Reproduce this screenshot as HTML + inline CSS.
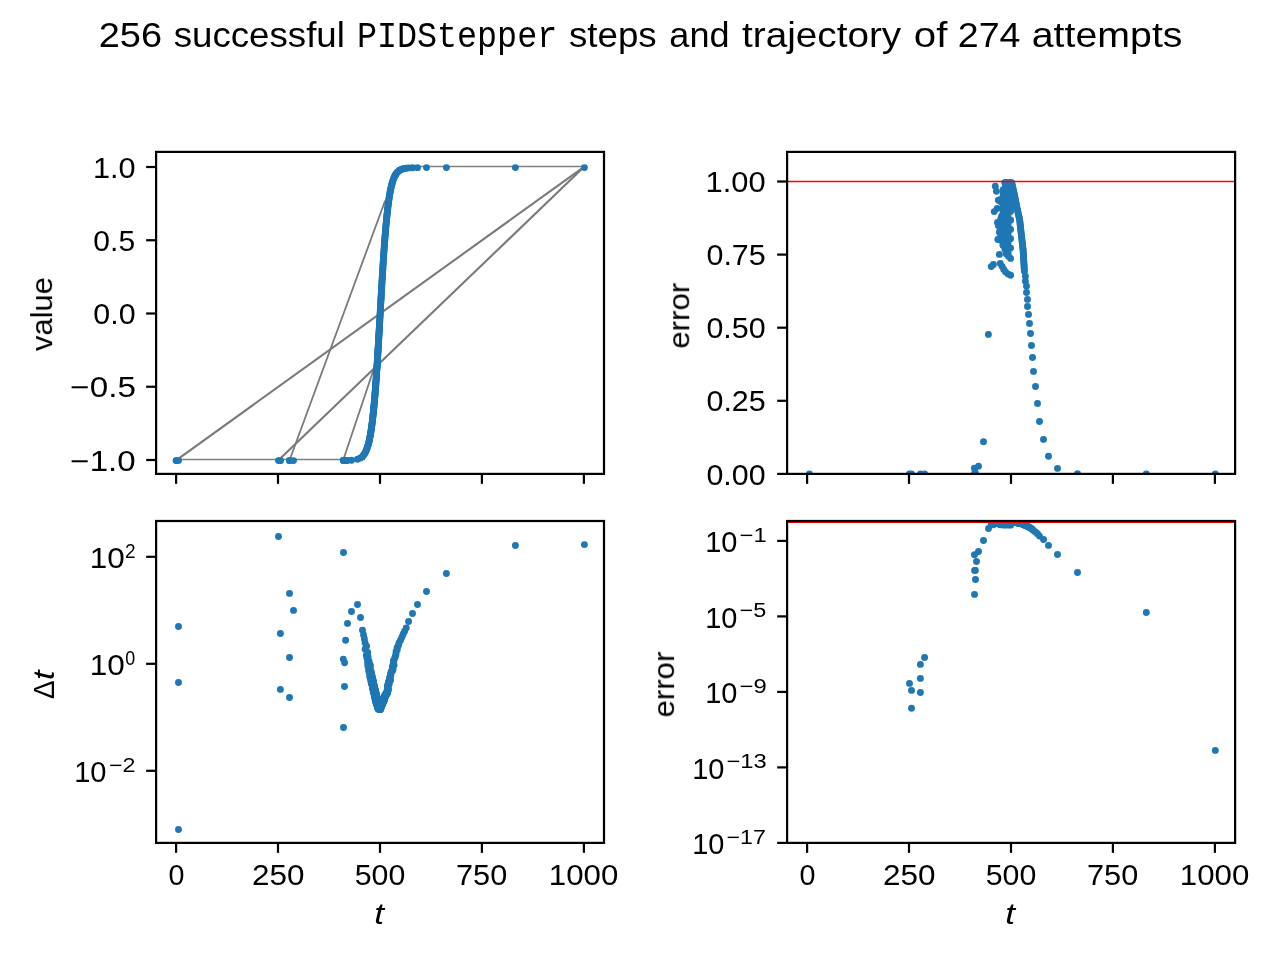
<!DOCTYPE html><html><head><meta charset="utf-8"><title>PIDStepper</title><style>html,body{margin:0;padding:0;background:#fff;}svg{display:block;}text{white-space:pre;}</style></head><body><svg width="1280" height="960" viewBox="0 0 1280 960" style="font-family:'Liberation Sans',sans-serif"><rect width="1280" height="960" fill="#fff"/><defs><clipPath id="c1"><rect x="156.1" y="151.9" width="447.9" height="322"/></clipPath><clipPath id="c2"><rect x="787.1" y="151.9" width="448" height="322"/></clipPath><clipPath id="c3"><rect x="156.1" y="521" width="447.9" height="321.9"/></clipPath><clipPath id="c4"><rect x="787.1" y="521" width="448" height="321.9"/></clipPath></defs>
<g clip-path="url(#c1)" fill="none" stroke="#808080"><g stroke-width="1.3"><polyline points="176.1,459.5 365,459.5" /><polyline points="405,166.5 584.4,166.5" /></g><g stroke-width="2.1" stroke="#7a7a7a"><line x1="177.5" y1="459.3" x2="584.4" y2="166.6"/><line x1="279.5" y1="459.3" x2="584.4" y2="166.6"/></g><g stroke-width="1.8" stroke="#7a7a7a"><line x1="289.8" y1="459.5" x2="385.2" y2="200.5"/><line x1="343.4" y1="459.5" x2="374.3" y2="367.5"/></g></g>
<g clip-path="url(#c1)" fill="#1f77b4"><circle cx="176.1" cy="460.6" r="3.45"/><circle cx="176.3" cy="460.6" r="3.45"/><circle cx="178.5" cy="460.6" r="3.45"/><circle cx="278.5" cy="460.6" r="3.45"/><circle cx="280.4" cy="460.6" r="3.45"/><circle cx="280.4" cy="460.6" r="3.45"/><circle cx="289.5" cy="460.6" r="3.45"/><circle cx="289.5" cy="460.6" r="3.45"/><circle cx="289.5" cy="460.6" r="3.45"/><circle cx="293.5" cy="460.6" r="3.45"/><circle cx="343.5" cy="460.55" r="3.45"/><circle cx="343.5" cy="460.55" r="3.45"/><circle cx="344.5" cy="460.54" r="3.45"/><circle cx="343.3" cy="460.56" r="3.45"/><circle cx="344.6" cy="460.54" r="3.45"/><circle cx="345.6" cy="460.53" r="3.45"/><circle cx="347.5" cy="460.48" r="3.45"/><circle cx="351.5" cy="460.29" r="3.45"/><circle cx="357.5" cy="459.31" r="3.45"/><circle cx="360.5" cy="457.96" r="3.45"/><circle cx="362.5" cy="456.36" r="3.45"/><circle cx="363.54" cy="455.19" r="3.45"/><circle cx="364.38" cy="454.01" r="3.45"/><circle cx="365.09" cy="452.81" r="3.45"/><circle cx="365.69" cy="451.66" r="3.45"/><circle cx="366.2" cy="450.54" r="3.45"/><circle cx="366.64" cy="449.45" r="3.45"/><circle cx="367.03" cy="448.4" r="3.45"/><circle cx="367.39" cy="447.37" r="3.45"/><circle cx="367.71" cy="446.35" r="3.45"/><circle cx="368.01" cy="445.33" r="3.45"/><circle cx="368.29" cy="444.33" r="3.45"/><circle cx="368.56" cy="443.34" r="3.45"/><circle cx="368.8" cy="442.35" r="3.45"/><circle cx="369.04" cy="441.38" r="3.45"/><circle cx="369.26" cy="440.41" r="3.45"/><circle cx="369.46" cy="439.44" r="3.45"/><circle cx="369.66" cy="438.49" r="3.45"/><circle cx="369.85" cy="437.54" r="3.45"/><circle cx="370.03" cy="436.6" r="3.45"/><circle cx="370.21" cy="435.67" r="3.45"/><circle cx="370.38" cy="434.74" r="3.45"/><circle cx="370.54" cy="433.81" r="3.45"/><circle cx="370.69" cy="432.88" r="3.45"/><circle cx="370.85" cy="431.95" r="3.45"/><circle cx="371" cy="431.02" r="3.45"/><circle cx="371.14" cy="430.09" r="3.45"/><circle cx="371.28" cy="429.15" r="3.45"/><circle cx="371.42" cy="428.22" r="3.45"/><circle cx="371.55" cy="427.3" r="3.45"/><circle cx="371.68" cy="426.37" r="3.45"/><circle cx="371.81" cy="425.44" r="3.45"/><circle cx="371.93" cy="424.51" r="3.45"/><circle cx="372.05" cy="423.59" r="3.45"/><circle cx="372.17" cy="422.67" r="3.45"/><circle cx="372.28" cy="421.74" r="3.45"/><circle cx="372.4" cy="420.82" r="3.45"/><circle cx="372.51" cy="419.91" r="3.45"/><circle cx="372.61" cy="418.99" r="3.45"/><circle cx="372.72" cy="418.08" r="3.45"/><circle cx="372.82" cy="417.16" r="3.45"/><circle cx="372.93" cy="416.26" r="3.45"/><circle cx="373.03" cy="415.35" r="3.45"/><circle cx="373.12" cy="414.44" r="3.45"/><circle cx="373.22" cy="413.54" r="3.45"/><circle cx="373.31" cy="412.64" r="3.45"/><circle cx="373.41" cy="411.74" r="3.45"/><circle cx="373.5" cy="410.85" r="3.45"/><circle cx="373.59" cy="409.96" r="3.45"/><circle cx="373.68" cy="409.07" r="3.45"/><circle cx="373.76" cy="408.18" r="3.45"/><circle cx="373.85" cy="407.3" r="3.45"/><circle cx="373.93" cy="406.42" r="3.45"/><circle cx="374.01" cy="405.54" r="3.45"/><circle cx="374.09" cy="404.67" r="3.45"/><circle cx="374.17" cy="403.8" r="3.45"/><circle cx="374.25" cy="402.93" r="3.45"/><circle cx="374.33" cy="402.06" r="3.45"/><circle cx="374.41" cy="401.2" r="3.45"/><circle cx="374.48" cy="400.34" r="3.45"/><circle cx="374.56" cy="399.49" r="3.45"/><circle cx="374.63" cy="398.63" r="3.45"/><circle cx="374.7" cy="397.79" r="3.45"/><circle cx="374.77" cy="396.94" r="3.45"/><circle cx="374.84" cy="396.1" r="3.45"/><circle cx="374.91" cy="395.26" r="3.45"/><circle cx="374.98" cy="394.42" r="3.45"/><circle cx="375.05" cy="393.59" r="3.45"/><circle cx="375.12" cy="392.75" r="3.45"/><circle cx="375.18" cy="391.92" r="3.45"/><circle cx="375.25" cy="391.09" r="3.45"/><circle cx="375.31" cy="390.26" r="3.45"/><circle cx="375.38" cy="389.44" r="3.45"/><circle cx="375.44" cy="388.61" r="3.45"/><circle cx="375.5" cy="387.79" r="3.45"/><circle cx="375.57" cy="386.97" r="3.45"/><circle cx="375.63" cy="386.15" r="3.45"/><circle cx="375.69" cy="385.34" r="3.45"/><circle cx="375.75" cy="384.53" r="3.45"/><circle cx="375.81" cy="383.72" r="3.45"/><circle cx="375.87" cy="382.91" r="3.45"/><circle cx="375.93" cy="382.1" r="3.45"/><circle cx="375.98" cy="381.3" r="3.45"/><circle cx="376.04" cy="380.5" r="3.45"/><circle cx="376.1" cy="379.7" r="3.45"/><circle cx="376.16" cy="378.91" r="3.45"/><circle cx="376.21" cy="378.11" r="3.45"/><circle cx="376.27" cy="377.32" r="3.45"/><circle cx="376.32" cy="376.54" r="3.45"/><circle cx="376.38" cy="375.75" r="3.45"/><circle cx="376.43" cy="374.97" r="3.45"/><circle cx="376.48" cy="374.19" r="3.45"/><circle cx="376.54" cy="373.41" r="3.45"/><circle cx="376.59" cy="372.64" r="3.45"/><circle cx="376.64" cy="371.87" r="3.45"/><circle cx="376.69" cy="371.1" r="3.45"/><circle cx="376.74" cy="370.33" r="3.45"/><circle cx="376.8" cy="369.57" r="3.45"/><circle cx="376.85" cy="368.81" r="3.45"/><circle cx="376.9" cy="368.05" r="3.45"/><circle cx="376.95" cy="367.29" r="3.45"/><circle cx="377" cy="366.53" r="3.45"/><circle cx="377.05" cy="365.76" r="3.45"/><circle cx="377.1" cy="364.99" r="3.45"/><circle cx="377.15" cy="364.22" r="3.45"/><circle cx="377.2" cy="363.44" r="3.45"/><circle cx="377.25" cy="362.66" r="3.45"/><circle cx="377.3" cy="361.88" r="3.45"/><circle cx="377.35" cy="361.1" r="3.45"/><circle cx="377.4" cy="360.31" r="3.45"/><circle cx="377.45" cy="359.52" r="3.45"/><circle cx="377.5" cy="358.72" r="3.45"/><circle cx="377.55" cy="357.92" r="3.45"/><circle cx="377.6" cy="357.12" r="3.45"/><circle cx="377.65" cy="356.32" r="3.45"/><circle cx="377.7" cy="355.51" r="3.45"/><circle cx="377.75" cy="354.71" r="3.45"/><circle cx="377.8" cy="353.89" r="3.45"/><circle cx="377.85" cy="353.08" r="3.45"/><circle cx="377.9" cy="352.26" r="3.45"/><circle cx="377.95" cy="351.44" r="3.45"/><circle cx="378" cy="350.62" r="3.45"/><circle cx="378.05" cy="349.8" r="3.45"/><circle cx="378.1" cy="348.97" r="3.45"/><circle cx="378.15" cy="348.14" r="3.45"/><circle cx="378.2" cy="347.31" r="3.45"/><circle cx="378.25" cy="346.48" r="3.45"/><circle cx="378.3" cy="345.64" r="3.45"/><circle cx="378.35" cy="344.8" r="3.45"/><circle cx="378.4" cy="343.97" r="3.45"/><circle cx="378.45" cy="343.12" r="3.45"/><circle cx="378.5" cy="342.28" r="3.45"/><circle cx="378.55" cy="341.43" r="3.45"/><circle cx="378.6" cy="340.59" r="3.45"/><circle cx="378.65" cy="339.74" r="3.45"/><circle cx="378.7" cy="338.88" r="3.45"/><circle cx="378.75" cy="338.03" r="3.45"/><circle cx="378.8" cy="337.18" r="3.45"/><circle cx="378.85" cy="336.32" r="3.45"/><circle cx="378.9" cy="335.46" r="3.45"/><circle cx="378.95" cy="334.6" r="3.45"/><circle cx="379" cy="333.74" r="3.45"/><circle cx="379.05" cy="332.88" r="3.45"/><circle cx="379.1" cy="332.02" r="3.45"/><circle cx="379.15" cy="331.15" r="3.45"/><circle cx="379.2" cy="330.28" r="3.45"/><circle cx="379.25" cy="329.42" r="3.45"/><circle cx="379.3" cy="328.55" r="3.45"/><circle cx="379.35" cy="327.68" r="3.45"/><circle cx="379.4" cy="326.81" r="3.45"/><circle cx="379.45" cy="325.94" r="3.45"/><circle cx="379.5" cy="325.07" r="3.45"/><circle cx="379.55" cy="324.19" r="3.45"/><circle cx="379.6" cy="323.19" r="3.45"/><circle cx="379.66" cy="322.18" r="3.45"/><circle cx="379.72" cy="321.16" r="3.45"/><circle cx="379.78" cy="320.13" r="3.45"/><circle cx="379.84" cy="319.1" r="3.45"/><circle cx="379.9" cy="318.07" r="3.45"/><circle cx="379.96" cy="317.02" r="3.45"/><circle cx="380.02" cy="315.97" r="3.45"/><circle cx="380.08" cy="314.91" r="3.45"/><circle cx="380.14" cy="313.85" r="3.45"/><circle cx="380.2" cy="312.78" r="3.45"/><circle cx="380.26" cy="311.7" r="3.45"/><circle cx="380.32" cy="310.62" r="3.45"/><circle cx="380.38" cy="309.53" r="3.45"/><circle cx="380.45" cy="308.43" r="3.45"/><circle cx="380.51" cy="307.33" r="3.45"/><circle cx="380.57" cy="306.22" r="3.45"/><circle cx="380.64" cy="305.11" r="3.45"/><circle cx="380.7" cy="303.99" r="3.45"/><circle cx="380.76" cy="302.86" r="3.45"/><circle cx="380.83" cy="301.73" r="3.45"/><circle cx="380.89" cy="300.59" r="3.45"/><circle cx="380.96" cy="299.45" r="3.45"/><circle cx="381.03" cy="298.3" r="3.45"/><circle cx="381.09" cy="297.14" r="3.45"/><circle cx="381.16" cy="295.98" r="3.45"/><circle cx="381.23" cy="294.81" r="3.45"/><circle cx="381.3" cy="293.64" r="3.45"/><circle cx="381.36" cy="292.46" r="3.45"/><circle cx="381.43" cy="291.28" r="3.45"/><circle cx="381.5" cy="290.09" r="3.45"/><circle cx="381.57" cy="288.9" r="3.45"/><circle cx="381.64" cy="287.7" r="3.45"/><circle cx="381.71" cy="286.5" r="3.45"/><circle cx="381.79" cy="285.29" r="3.45"/><circle cx="381.86" cy="284.08" r="3.45"/><circle cx="381.93" cy="282.87" r="3.45"/><circle cx="382" cy="281.65" r="3.45"/><circle cx="382.08" cy="280.42" r="3.45"/><circle cx="382.15" cy="279.2" r="3.45"/><circle cx="382.22" cy="277.97" r="3.45"/><circle cx="382.3" cy="276.73" r="3.45"/><circle cx="382.38" cy="275.5" r="3.45"/><circle cx="382.45" cy="274.26" r="3.45"/><circle cx="382.53" cy="273.01" r="3.45"/><circle cx="382.61" cy="271.77" r="3.45"/><circle cx="382.68" cy="270.52" r="3.45"/><circle cx="382.76" cy="269.27" r="3.45"/><circle cx="382.84" cy="268.02" r="3.45"/><circle cx="382.92" cy="266.76" r="3.45"/><circle cx="383" cy="265.51" r="3.45"/><circle cx="383.08" cy="264.25" r="3.45"/><circle cx="383.16" cy="262.99" r="3.45"/><circle cx="383.24" cy="261.73" r="3.45"/><circle cx="383.33" cy="260.47" r="3.45"/><circle cx="383.41" cy="259.21" r="3.45"/><circle cx="383.49" cy="257.94" r="3.45"/><circle cx="383.58" cy="256.68" r="3.45"/><circle cx="383.66" cy="255.41" r="3.45"/><circle cx="383.75" cy="254.15" r="3.45"/><circle cx="383.84" cy="252.89" r="3.45"/><circle cx="383.93" cy="251.62" r="3.45"/><circle cx="384.01" cy="250.36" r="3.45"/><circle cx="384.1" cy="249.1" r="3.45"/><circle cx="384.19" cy="247.84" r="3.45"/><circle cx="384.28" cy="246.58" r="3.45"/><circle cx="384.37" cy="245.33" r="3.45"/><circle cx="384.47" cy="244.07" r="3.45"/><circle cx="384.56" cy="242.82" r="3.45"/><circle cx="384.65" cy="241.57" r="3.45"/><circle cx="384.75" cy="240.32" r="3.45"/><circle cx="384.84" cy="239.07" r="3.45"/><circle cx="384.94" cy="237.83" r="3.45"/><circle cx="385.04" cy="236.6" r="3.45"/><circle cx="385.14" cy="235.36" r="3.45"/><circle cx="385.24" cy="234.13" r="3.45"/><circle cx="385.34" cy="232.91" r="3.45"/><circle cx="385.44" cy="231.68" r="3.45"/><circle cx="385.54" cy="230.47" r="3.45"/><circle cx="385.64" cy="229.26" r="3.45"/><circle cx="385.75" cy="228.05" r="3.45"/><circle cx="385.85" cy="226.85" r="3.45"/><circle cx="385.96" cy="225.66" r="3.45"/><circle cx="386.06" cy="224.47" r="3.45"/><circle cx="386.17" cy="223.29" r="3.45"/><circle cx="386.28" cy="222.11" r="3.45"/><circle cx="386.39" cy="220.95" r="3.45"/><circle cx="386.51" cy="219.79" r="3.45"/><circle cx="386.62" cy="218.63" r="3.45"/><circle cx="386.73" cy="217.49" r="3.45"/><circle cx="386.85" cy="216.35" r="3.45"/><circle cx="386.97" cy="215.22" r="3.45"/><circle cx="387.09" cy="214.08" r="3.45"/><circle cx="387.21" cy="212.94" r="3.45"/><circle cx="387.33" cy="211.8" r="3.45"/><circle cx="387.46" cy="210.65" r="3.45"/><circle cx="387.6" cy="209.5" r="3.45"/><circle cx="387.73" cy="208.35" r="3.45"/><circle cx="387.87" cy="207.2" r="3.45"/><circle cx="388.01" cy="206.04" r="3.45"/><circle cx="388.16" cy="204.88" r="3.45"/><circle cx="388.31" cy="203.72" r="3.45"/><circle cx="388.47" cy="202.56" r="3.45"/><circle cx="388.63" cy="201.4" r="3.45"/><circle cx="388.79" cy="200.24" r="3.45"/><circle cx="388.96" cy="199.07" r="3.45"/><circle cx="389.14" cy="197.91" r="3.45"/><circle cx="389.32" cy="196.75" r="3.45"/><circle cx="389.51" cy="195.59" r="3.45"/><circle cx="389.7" cy="194.43" r="3.45"/><circle cx="389.9" cy="193.27" r="3.45"/><circle cx="390.11" cy="192.12" r="3.45"/><circle cx="390.33" cy="190.96" r="3.45"/><circle cx="390.56" cy="189.82" r="3.45"/><circle cx="390.8" cy="188.67" r="3.45"/><circle cx="391.05" cy="187.53" r="3.45"/><circle cx="391.31" cy="186.4" r="3.45"/><circle cx="391.58" cy="185.28" r="3.45"/><circle cx="391.87" cy="184.16" r="3.45"/><circle cx="392.18" cy="183.06" r="3.45"/><circle cx="392.5" cy="181.97" r="3.45"/><circle cx="392.83" cy="180.91" r="3.45"/><circle cx="393.19" cy="179.86" r="3.45"/><circle cx="393.57" cy="178.83" r="3.45"/><circle cx="393.98" cy="177.82" r="3.45"/><circle cx="394.42" cy="176.83" r="3.45"/><circle cx="394.89" cy="175.88" r="3.45"/><circle cx="395.4" cy="174.95" r="3.45"/><circle cx="395.96" cy="174.05" r="3.45"/><circle cx="396.58" cy="173.18" r="3.45"/><circle cx="397.26" cy="172.35" r="3.45"/><circle cx="398.01" cy="171.58" r="3.45"/><circle cx="398.82" cy="170.88" r="3.45"/><circle cx="399.72" cy="170.25" r="3.45"/><circle cx="400.72" cy="169.69" r="3.45"/><circle cx="401.84" cy="169.2" r="3.45"/><circle cx="403.13" cy="168.78" r="3.45"/><circle cx="404.59" cy="168.43" r="3.45"/><circle cx="406.24" cy="168.16" r="3.45"/><circle cx="408.6" cy="167.92" r="3.45"/><circle cx="412.5" cy="167.73" r="3.45"/><circle cx="417.5" cy="167.64" r="3.45"/><circle cx="426.5" cy="167.6" r="3.45"/><circle cx="446.4" cy="167.6" r="3.45"/><circle cx="515.4" cy="167.6" r="3.45"/><circle cx="584.4" cy="167.6" r="3.45"/></g>
<g clip-path="url(#c2)" fill="#1f77b4"><circle cx="1011.64" cy="182.6" r="3.45"/><circle cx="1012.01" cy="184.2" r="3.45"/><circle cx="1012.38" cy="185.8" r="3.45"/><circle cx="1012.75" cy="187.4" r="3.45"/><circle cx="1013.12" cy="189" r="3.45"/><circle cx="1013.48" cy="190.6" r="3.45"/><circle cx="1013.85" cy="192.2" r="3.45"/><circle cx="1014.22" cy="193.8" r="3.45"/><circle cx="1014.58" cy="195.4" r="3.45"/><circle cx="1014.88" cy="197" r="3.45"/><circle cx="1015.19" cy="198.6" r="3.45"/><circle cx="1015.5" cy="200.2" r="3.45"/><circle cx="1015.81" cy="201.8" r="3.45"/><circle cx="1016.11" cy="203.4" r="3.45"/><circle cx="1016.42" cy="205" r="3.45"/><circle cx="1016.73" cy="206.6" r="3.45"/><circle cx="1017.06" cy="208.2" r="3.45"/><circle cx="1017.42" cy="209.8" r="3.45"/><circle cx="1017.77" cy="211.4" r="3.45"/><circle cx="1018.13" cy="213" r="3.45"/><circle cx="1018.49" cy="214.6" r="3.45"/><circle cx="1018.85" cy="216.2" r="3.45"/><circle cx="1019.21" cy="217.8" r="3.45"/><circle cx="1019.57" cy="219.4" r="3.45"/><circle cx="1019.81" cy="221" r="3.45"/><circle cx="1019.99" cy="222.6" r="3.45"/><circle cx="1020.16" cy="224.2" r="3.45"/><circle cx="1020.34" cy="225.8" r="3.45"/><circle cx="1020.51" cy="227.4" r="3.45"/><circle cx="1020.69" cy="229" r="3.45"/><circle cx="1020.87" cy="230.6" r="3.45"/><circle cx="1021.05" cy="232.2" r="3.45"/><circle cx="1021.24" cy="233.8" r="3.45"/><circle cx="1021.42" cy="235.4" r="3.45"/><circle cx="1021.6" cy="237" r="3.45"/><circle cx="1021.79" cy="238.6" r="3.45"/><circle cx="1021.97" cy="240.2" r="3.45"/><circle cx="1022.16" cy="241.8" r="3.45"/><circle cx="1022.34" cy="243.4" r="3.45"/><circle cx="1022.52" cy="245" r="3.45"/><circle cx="1022.71" cy="246.6" r="3.45"/><circle cx="1022.89" cy="248.2" r="3.45"/><circle cx="1023.08" cy="249.8" r="3.45"/><circle cx="1023.19" cy="251.4" r="3.45"/><circle cx="1023.28" cy="253" r="3.45"/><circle cx="1023.38" cy="254.6" r="3.45"/><circle cx="1023.48" cy="256.2" r="3.45"/><circle cx="1023.58" cy="257.8" r="3.45"/><circle cx="1023.68" cy="259.4" r="3.45"/><circle cx="1023.77" cy="261" r="3.45"/><circle cx="1023.87" cy="262.6" r="3.45"/><circle cx="1023.97" cy="264.2" r="3.45"/><circle cx="1024.07" cy="265.8" r="3.45"/><circle cx="1024.16" cy="267.4" r="3.45"/><circle cx="1024.26" cy="269" r="3.45"/><circle cx="1024.4" cy="271.25" r="3.45"/><circle cx="1025.4" cy="276.25" r="3.45"/><circle cx="1025.4" cy="281.25" r="3.45"/><circle cx="1026.5" cy="286.25" r="3.45"/><circle cx="1026.5" cy="292.5" r="3.45"/><circle cx="1027.5" cy="299.4" r="3.45"/><circle cx="1027.5" cy="306.5" r="3.45"/><circle cx="1028.5" cy="314.4" r="3.45"/><circle cx="1029.5" cy="323.5" r="3.45"/><circle cx="1030.5" cy="333.5" r="3.45"/><circle cx="1031.5" cy="345.5" r="3.45"/><circle cx="1032.5" cy="357.5" r="3.45"/><circle cx="1033.5" cy="371.4" r="3.45"/><circle cx="1035.5" cy="386.5" r="3.45"/><circle cx="1037.5" cy="403.5" r="3.45"/><circle cx="1039.5" cy="421.5" r="3.45"/><circle cx="1043.5" cy="439.4" r="3.45"/><circle cx="1048.5" cy="456.25" r="3.45"/><circle cx="1057.5" cy="468.4" r="3.45"/><circle cx="1077.5" cy="473.75" r="3.45"/><circle cx="1146.3" cy="473.9" r="3.45"/><circle cx="1215.3" cy="473.9" r="3.45"/><circle cx="991.25" cy="266.6" r="3.45"/><circle cx="993.4" cy="264.4" r="3.45"/><circle cx="995.3" cy="186.25" r="3.45"/><circle cx="996.4" cy="191.25" r="3.45"/><circle cx="998.4" cy="200.3" r="3.45"/><circle cx="994.25" cy="211.6" r="3.45"/><circle cx="997.2" cy="208.4" r="3.45"/><circle cx="997.5" cy="222.5" r="3.45"/><circle cx="1001.6" cy="216.25" r="3.45"/><circle cx="999.4" cy="232.2" r="3.45"/><circle cx="997.9" cy="239.5" r="3.45"/><circle cx="999.4" cy="254.4" r="3.45"/><circle cx="1000.3" cy="263.4" r="3.45"/><circle cx="1002.2" cy="266.6" r="3.45"/><circle cx="1003.75" cy="269.4" r="3.45"/><circle cx="1005.6" cy="271.9" r="3.45"/><circle cx="1008.1" cy="274.1" r="3.45"/><circle cx="1010.6" cy="275.3" r="3.45"/><circle cx="1006.25" cy="253.75" r="3.45"/><circle cx="1008.4" cy="256.25" r="3.45"/><circle cx="1010.6" cy="258.4" r="3.45"/><circle cx="1003" cy="245.2" r="3.45"/><circle cx="1005" cy="249.2" r="3.45"/><circle cx="1010.6" cy="229.4" r="3.45"/><circle cx="1010.6" cy="238.75" r="3.45"/><circle cx="1010.6" cy="248.1" r="3.45"/><circle cx="1010.5" cy="211.5" r="3.45"/><circle cx="1010.6" cy="220.2" r="3.45"/><circle cx="1004.7" cy="182.6" r="3.45"/><circle cx="1010" cy="182.6" r="3.45"/><circle cx="1007.3" cy="182.6" r="3.45"/><circle cx="1005.6" cy="182.6" r="3.45"/><circle cx="1008" cy="182.6" r="3.45"/><circle cx="1010.4" cy="182.6" r="3.45"/><circle cx="1005.6" cy="185" r="3.45"/><circle cx="1008" cy="185" r="3.45"/><circle cx="1010.4" cy="185" r="3.45"/><circle cx="1005.6" cy="187.4" r="3.45"/><circle cx="1008" cy="187.4" r="3.45"/><circle cx="1010.4" cy="187.4" r="3.45"/><circle cx="1003.2" cy="189.8" r="3.45"/><circle cx="1005.6" cy="189.8" r="3.45"/><circle cx="1008" cy="189.8" r="3.45"/><circle cx="1010.4" cy="189.8" r="3.45"/><circle cx="1003.2" cy="192.2" r="3.45"/><circle cx="1005.6" cy="192.2" r="3.45"/><circle cx="1008" cy="192.2" r="3.45"/><circle cx="1010.4" cy="192.2" r="3.45"/><circle cx="1003.2" cy="194.6" r="3.45"/><circle cx="1005.6" cy="194.6" r="3.45"/><circle cx="1008" cy="194.6" r="3.45"/><circle cx="1010.4" cy="194.6" r="3.45"/><circle cx="1003.2" cy="197" r="3.45"/><circle cx="1005.6" cy="197" r="3.45"/><circle cx="1008" cy="197" r="3.45"/><circle cx="1010.4" cy="197" r="3.45"/><circle cx="1000.8" cy="199.4" r="3.45"/><circle cx="1003.2" cy="199.4" r="3.45"/><circle cx="1005.6" cy="199.4" r="3.45"/><circle cx="1008" cy="199.4" r="3.45"/><circle cx="1010.4" cy="199.4" r="3.45"/><circle cx="1000.8" cy="201.8" r="3.45"/><circle cx="1003.2" cy="201.8" r="3.45"/><circle cx="1005.6" cy="201.8" r="3.45"/><circle cx="1008" cy="201.8" r="3.45"/><circle cx="1010.4" cy="201.8" r="3.45"/><circle cx="1012.8" cy="201.8" r="3.45"/><circle cx="1003.2" cy="204.2" r="3.45"/><circle cx="1005.6" cy="204.2" r="3.45"/><circle cx="1008" cy="204.2" r="3.45"/><circle cx="1010.4" cy="204.2" r="3.45"/><circle cx="1012.8" cy="204.2" r="3.45"/><circle cx="1003.2" cy="206.6" r="3.45"/><circle cx="1005.6" cy="206.6" r="3.45"/><circle cx="1008" cy="206.6" r="3.45"/><circle cx="1010.4" cy="206.6" r="3.45"/><circle cx="1003.2" cy="209" r="3.45"/><circle cx="1005.6" cy="209" r="3.45"/><circle cx="1008" cy="209" r="3.45"/><circle cx="1010.4" cy="209" r="3.45"/><circle cx="1003.2" cy="211.4" r="3.45"/><circle cx="1005.6" cy="211.4" r="3.45"/><circle cx="1008" cy="211.4" r="3.45"/><circle cx="1003.2" cy="213.8" r="3.45"/><circle cx="1005.6" cy="213.8" r="3.45"/><circle cx="1008" cy="213.8" r="3.45"/><circle cx="1003.2" cy="216.2" r="3.45"/><circle cx="1005.6" cy="216.2" r="3.45"/><circle cx="1008" cy="216.2" r="3.45"/><circle cx="1000.8" cy="218.6" r="3.45"/><circle cx="1003.2" cy="218.6" r="3.45"/><circle cx="1005.6" cy="218.6" r="3.45"/><circle cx="1008" cy="218.6" r="3.45"/><circle cx="1000.8" cy="221" r="3.45"/><circle cx="1003.2" cy="221" r="3.45"/><circle cx="1005.6" cy="221" r="3.45"/><circle cx="1008" cy="221" r="3.45"/><circle cx="998.4" cy="223.4" r="3.45"/><circle cx="1000.8" cy="223.4" r="3.45"/><circle cx="1003.2" cy="223.4" r="3.45"/><circle cx="1005.6" cy="223.4" r="3.45"/><circle cx="1008" cy="223.4" r="3.45"/><circle cx="998.4" cy="225.8" r="3.45"/><circle cx="1000.8" cy="225.8" r="3.45"/><circle cx="1003.2" cy="225.8" r="3.45"/><circle cx="1005.6" cy="225.8" r="3.45"/><circle cx="1008" cy="225.8" r="3.45"/><circle cx="1000.8" cy="228.2" r="3.45"/><circle cx="1003.2" cy="228.2" r="3.45"/><circle cx="1005.6" cy="228.2" r="3.45"/><circle cx="1008" cy="228.2" r="3.45"/><circle cx="1000.8" cy="230.6" r="3.45"/><circle cx="1003.2" cy="230.6" r="3.45"/><circle cx="1005.6" cy="230.6" r="3.45"/><circle cx="1008" cy="230.6" r="3.45"/><circle cx="1000.8" cy="233" r="3.45"/><circle cx="1003.2" cy="233" r="3.45"/><circle cx="1005.6" cy="233" r="3.45"/><circle cx="1008" cy="233" r="3.45"/><circle cx="1000.8" cy="235.4" r="3.45"/><circle cx="1003.2" cy="235.4" r="3.45"/><circle cx="1005.6" cy="235.4" r="3.45"/><circle cx="1008" cy="235.4" r="3.45"/><circle cx="1000.8" cy="237.8" r="3.45"/><circle cx="1003.2" cy="237.8" r="3.45"/><circle cx="1005.6" cy="237.8" r="3.45"/><circle cx="1008" cy="237.8" r="3.45"/><circle cx="1000.8" cy="240.2" r="3.45"/><circle cx="1003.2" cy="240.2" r="3.45"/><circle cx="1005.6" cy="240.2" r="3.45"/><circle cx="1008" cy="240.2" r="3.45"/><circle cx="1003.2" cy="242.6" r="3.45"/><circle cx="1005.6" cy="242.6" r="3.45"/><circle cx="1008" cy="242.6" r="3.45"/><circle cx="1003.2" cy="245" r="3.45"/><circle cx="1005.6" cy="245" r="3.45"/><circle cx="1008" cy="245" r="3.45"/><circle cx="1005.6" cy="247.4" r="3.45"/><circle cx="1008" cy="247.4" r="3.45"/><circle cx="1005.6" cy="249.8" r="3.45"/><circle cx="1008" cy="249.8" r="3.45"/><circle cx="1008" cy="252.2" r="3.45"/><circle cx="1008" cy="254.6" r="3.45"/><circle cx="809.4" cy="473.9" r="3.45"/><circle cx="909.5" cy="473.9" r="3.45"/><circle cx="911.5" cy="473.9" r="3.45"/><circle cx="920.4" cy="473.9" r="3.45"/><circle cx="924.6" cy="473.9" r="3.45"/><circle cx="974.4" cy="468.3" r="3.45"/><circle cx="975.4" cy="472.9" r="3.45"/><circle cx="974.6" cy="473.5" r="3.45"/><circle cx="978.5" cy="466.25" r="3.45"/><circle cx="983.5" cy="441.7" r="3.45"/><circle cx="988.4" cy="334.4" r="3.45"/></g>
<g clip-path="url(#c3)" fill="#1f77b4"><circle cx="178.5" cy="829.5" r="3.45"/><circle cx="178.5" cy="682.5" r="3.45"/><circle cx="178.5" cy="626.5" r="3.45"/><circle cx="278.5" cy="536.5" r="3.45"/><circle cx="280.4" cy="633.5" r="3.45"/><circle cx="280.4" cy="689.4" r="3.45"/><circle cx="289.5" cy="593.4" r="3.45"/><circle cx="289.5" cy="657.5" r="3.45"/><circle cx="289.5" cy="697.5" r="3.45"/><circle cx="293.5" cy="610.4" r="3.45"/><circle cx="343.5" cy="552.5" r="3.45"/><circle cx="343.5" cy="727.5" r="3.45"/><circle cx="344.5" cy="686.5" r="3.45"/><circle cx="343.3" cy="659.1" r="3.45"/><circle cx="344.6" cy="662.7" r="3.45"/><circle cx="345.6" cy="640.3" r="3.45"/><circle cx="347.5" cy="623.4" r="3.45"/><circle cx="351.5" cy="611.5" r="3.45"/><circle cx="357.5" cy="604.5" r="3.45"/><circle cx="360.5" cy="617.5" r="3.45"/><circle cx="362.5" cy="630.2" r="3.45"/><circle cx="363.54" cy="635.04" r="3.45"/><circle cx="364.38" cy="638.97" r="3.45"/><circle cx="365.09" cy="643.07" r="3.45"/><circle cx="366.61" cy="646.24" r="3.45"/><circle cx="365.12" cy="649.29" r="3.45"/><circle cx="367.71" cy="652.53" r="3.45"/><circle cx="366.34" cy="655.19" r="3.45"/><circle cx="368.11" cy="657.02" r="3.45"/><circle cx="367.02" cy="658.27" r="3.45"/><circle cx="369.01" cy="661.11" r="3.45"/><circle cx="367.56" cy="661.69" r="3.45"/><circle cx="369.7" cy="664.3" r="3.45"/><circle cx="367.78" cy="664.78" r="3.45"/><circle cx="370.42" cy="665.5" r="3.45"/><circle cx="368.05" cy="667.1" r="3.45"/><circle cx="370.27" cy="667.98" r="3.45"/><circle cx="368.81" cy="670.2" r="3.45"/><circle cx="370.68" cy="670.87" r="3.45"/><circle cx="368.97" cy="671.53" r="3.45"/><circle cx="371.29" cy="671.88" r="3.45"/><circle cx="369.69" cy="672.85" r="3.45"/><circle cx="371.71" cy="673.92" r="3.45"/><circle cx="369.84" cy="674.87" r="3.45"/><circle cx="371.86" cy="675.09" r="3.45"/><circle cx="369.83" cy="676.38" r="3.45"/><circle cx="372.01" cy="676.82" r="3.45"/><circle cx="370.29" cy="677.92" r="3.45"/><circle cx="372.63" cy="677.59" r="3.45"/><circle cx="370.26" cy="677.9" r="3.45"/><circle cx="372.67" cy="679.5" r="3.45"/><circle cx="371.06" cy="679.63" r="3.45"/><circle cx="372.66" cy="680.46" r="3.45"/><circle cx="370.9" cy="680.85" r="3.45"/><circle cx="373.48" cy="680.95" r="3.45"/><circle cx="371.18" cy="681.91" r="3.45"/><circle cx="373.5" cy="682.19" r="3.45"/><circle cx="371.31" cy="683.46" r="3.45"/><circle cx="373.65" cy="683.49" r="3.45"/><circle cx="372.03" cy="684.02" r="3.45"/><circle cx="373.98" cy="684.94" r="3.45"/><circle cx="371.74" cy="684.26" r="3.45"/><circle cx="374" cy="685.32" r="3.45"/><circle cx="372.46" cy="685.42" r="3.45"/><circle cx="374.04" cy="685.29" r="3.45"/><circle cx="372.63" cy="686.75" r="3.45"/><circle cx="374.2" cy="686.33" r="3.45"/><circle cx="372.59" cy="687.73" r="3.45"/><circle cx="374.34" cy="687.45" r="3.45"/><circle cx="372.67" cy="688.54" r="3.45"/><circle cx="375.04" cy="688.89" r="3.45"/><circle cx="373.02" cy="688.55" r="3.45"/><circle cx="374.88" cy="689.67" r="3.45"/><circle cx="372.74" cy="688.86" r="3.45"/><circle cx="374.92" cy="689.35" r="3.45"/><circle cx="373.37" cy="690.11" r="3.45"/><circle cx="375.36" cy="690.1" r="3.45"/><circle cx="373.68" cy="690.69" r="3.45"/><circle cx="375.36" cy="691.26" r="3.45"/><circle cx="373.21" cy="691.8" r="3.45"/><circle cx="375.62" cy="692.01" r="3.45"/><circle cx="373.54" cy="691.43" r="3.45"/><circle cx="376.03" cy="692.91" r="3.45"/><circle cx="373.55" cy="693.25" r="3.45"/><circle cx="375.82" cy="692.9" r="3.45"/><circle cx="374.19" cy="693.54" r="3.45"/><circle cx="375.72" cy="692.89" r="3.45"/><circle cx="374.26" cy="693.3" r="3.45"/><circle cx="376.05" cy="693.38" r="3.45"/><circle cx="374.53" cy="693.79" r="3.45"/><circle cx="376.02" cy="694.38" r="3.45"/><circle cx="374.65" cy="695.44" r="3.45"/><circle cx="376.51" cy="694.52" r="3.45"/><circle cx="374.63" cy="695.08" r="3.45"/><circle cx="376.46" cy="694.96" r="3.45"/><circle cx="374.36" cy="696.59" r="3.45"/><circle cx="376.65" cy="696" r="3.45"/><circle cx="374.98" cy="695.63" r="3.45"/><circle cx="376.69" cy="696.11" r="3.45"/><circle cx="374.62" cy="696.18" r="3.45"/><circle cx="376.58" cy="697.66" r="3.45"/><circle cx="374.93" cy="696.6" r="3.45"/><circle cx="377.06" cy="696.63" r="3.45"/><circle cx="375.05" cy="698.37" r="3.45"/><circle cx="377.4" cy="698.13" r="3.45"/><circle cx="375.34" cy="697.82" r="3.45"/><circle cx="377.03" cy="698.68" r="3.45"/><circle cx="375.27" cy="698.9" r="3.45"/><circle cx="377.25" cy="698.22" r="3.45"/><circle cx="375.2" cy="699.64" r="3.45"/><circle cx="377.73" cy="699.56" r="3.45"/><circle cx="375.3" cy="699.66" r="3.45"/><circle cx="377.4" cy="699.5" r="3.45"/><circle cx="375.71" cy="698.92" r="3.45"/><circle cx="377.36" cy="699.52" r="3.45"/><circle cx="375.88" cy="700.38" r="3.45"/><circle cx="378.11" cy="700.18" r="3.45"/><circle cx="375.54" cy="701.24" r="3.45"/><circle cx="378.21" cy="700.43" r="3.45"/><circle cx="376.1" cy="700.4" r="3.45"/><circle cx="377.78" cy="700.55" r="3.45"/><circle cx="375.94" cy="701.85" r="3.45"/><circle cx="378.33" cy="701.37" r="3.45"/><circle cx="376.02" cy="702.07" r="3.45"/><circle cx="377.91" cy="702.04" r="3.45"/><circle cx="375.95" cy="702.42" r="3.45"/><circle cx="378.47" cy="702.13" r="3.45"/><circle cx="376.53" cy="702.81" r="3.45"/><circle cx="378.28" cy="703.02" r="3.45"/><circle cx="376.11" cy="702.56" r="3.45"/><circle cx="378.43" cy="703.63" r="3.45"/><circle cx="376.38" cy="702.58" r="3.45"/><circle cx="378.34" cy="702.74" r="3.45"/><circle cx="376.36" cy="703.98" r="3.45"/><circle cx="378.45" cy="704.17" r="3.45"/><circle cx="376.41" cy="704.05" r="3.45"/><circle cx="378.69" cy="704.03" r="3.45"/><circle cx="377.06" cy="703.33" r="3.45"/><circle cx="379.23" cy="704.5" r="3.45"/><circle cx="376.9" cy="705.11" r="3.45"/><circle cx="378.95" cy="705.17" r="3.45"/><circle cx="376.81" cy="704.27" r="3.45"/><circle cx="378.92" cy="704.55" r="3.45"/><circle cx="377.29" cy="705.18" r="3.45"/><circle cx="379.03" cy="705.07" r="3.45"/><circle cx="377.46" cy="706.01" r="3.45"/><circle cx="379.19" cy="705.44" r="3.45"/><circle cx="377.27" cy="706.31" r="3.45"/><circle cx="379.34" cy="706.49" r="3.45"/><circle cx="377.42" cy="706.02" r="3.45"/><circle cx="379.51" cy="705.36" r="3.45"/><circle cx="377.56" cy="705.78" r="3.45"/><circle cx="379.25" cy="706.92" r="3.45"/><circle cx="377.83" cy="706.55" r="3.45"/><circle cx="379.85" cy="706.84" r="3.45"/><circle cx="377.83" cy="706.93" r="3.45"/><circle cx="379.84" cy="707.51" r="3.45"/><circle cx="378.08" cy="707.31" r="3.45"/><circle cx="379.72" cy="707.01" r="3.45"/><circle cx="377.74" cy="707.54" r="3.45"/><circle cx="380.04" cy="708.1" r="3.45"/><circle cx="377.75" cy="707.74" r="3.45"/><circle cx="380.17" cy="708" r="3.45"/><circle cx="378.11" cy="708.45" r="3.45"/><circle cx="380.16" cy="708.35" r="3.45"/><circle cx="378.24" cy="709.16" r="3.45"/><circle cx="380.44" cy="709.21" r="3.45"/><circle cx="378.03" cy="708.38" r="3.45"/><circle cx="380.44" cy="709.63" r="3.45"/><circle cx="378.2" cy="708.5" r="3.45"/><circle cx="380.23" cy="709.14" r="3.45"/><circle cx="378.8" cy="708.97" r="3.45"/><circle cx="378.78" cy="709.29" r="3.45"/><circle cx="379.91" cy="709.16" r="3.45"/><circle cx="380.17" cy="709.02" r="3.45"/><circle cx="380.43" cy="708.89" r="3.45"/><circle cx="379.16" cy="708.75" r="3.45"/><circle cx="380.23" cy="708.61" r="3.45"/><circle cx="380.18" cy="708.48" r="3.45"/><circle cx="379.31" cy="708.34" r="3.45"/><circle cx="380.7" cy="708.2" r="3.45"/><circle cx="380.92" cy="708.06" r="3.45"/><circle cx="379.63" cy="707.91" r="3.45"/><circle cx="381.01" cy="707.77" r="3.45"/><circle cx="380.08" cy="707.63" r="3.45"/><circle cx="380.3" cy="707.49" r="3.45"/><circle cx="381.26" cy="707.34" r="3.45"/><circle cx="381.04" cy="707.19" r="3.45"/><circle cx="379.9" cy="707.05" r="3.45"/><circle cx="380.45" cy="706.9" r="3.45"/><circle cx="380.66" cy="706.75" r="3.45"/><circle cx="380.41" cy="706.6" r="3.45"/><circle cx="380.22" cy="706.45" r="3.45"/><circle cx="380.5" cy="706.3" r="3.45"/><circle cx="381.29" cy="706.15" r="3.45"/><circle cx="380.1" cy="705.99" r="3.45"/><circle cx="381.12" cy="705.84" r="3.45"/><circle cx="380.99" cy="705.68" r="3.45"/><circle cx="380.29" cy="705.53" r="3.45"/><circle cx="380.92" cy="705.37" r="3.45"/><circle cx="381.52" cy="705.21" r="3.45"/><circle cx="381.39" cy="705.05" r="3.45"/><circle cx="380.65" cy="704.89" r="3.45"/><circle cx="382.38" cy="704.73" r="3.45"/><circle cx="382.09" cy="704.56" r="3.45"/><circle cx="382.49" cy="704.4" r="3.45"/><circle cx="381" cy="704.25" r="3.45"/><circle cx="381.36" cy="704.09" r="3.45"/><circle cx="381.03" cy="703.93" r="3.45"/><circle cx="382.43" cy="703.76" r="3.45"/><circle cx="381.59" cy="703.6" r="3.45"/><circle cx="381.41" cy="703.44" r="3.45"/><circle cx="382.01" cy="703.27" r="3.45"/><circle cx="382.97" cy="703.11" r="3.45"/><circle cx="382.87" cy="702.94" r="3.45"/><circle cx="381.94" cy="702.77" r="3.45"/><circle cx="381.82" cy="702.6" r="3.45"/><circle cx="383.28" cy="702.43" r="3.45"/><circle cx="382.73" cy="702.26" r="3.45"/><circle cx="383.04" cy="702.08" r="3.45"/><circle cx="382.02" cy="701.91" r="3.45"/><circle cx="382.04" cy="701.73" r="3.45"/><circle cx="383.26" cy="701.56" r="3.45"/><circle cx="382.87" cy="701.38" r="3.45"/><circle cx="382.31" cy="701.2" r="3.45"/><circle cx="383.95" cy="701.01" r="3.45"/><circle cx="383.49" cy="700.83" r="3.45"/><circle cx="383.87" cy="700.65" r="3.45"/><circle cx="382.66" cy="700.46" r="3.45"/><circle cx="384.14" cy="700.27" r="3.45"/><circle cx="382.8" cy="700.08" r="3.45"/><circle cx="384.32" cy="699.89" r="3.45"/><circle cx="383.67" cy="699.7" r="3.45"/><circle cx="383.55" cy="699.51" r="3.45"/><circle cx="384.02" cy="699.31" r="3.45"/><circle cx="384.78" cy="699.12" r="3.45"/><circle cx="383.68" cy="698.92" r="3.45"/><circle cx="383.53" cy="698.72" r="3.45"/><circle cx="384.33" cy="698.51" r="3.45"/><circle cx="383.9" cy="698.31" r="3.45"/><circle cx="383.76" cy="698.1" r="3.45"/><circle cx="383.95" cy="697.9" r="3.45"/><circle cx="383.84" cy="697.69" r="3.45"/><circle cx="384.21" cy="697.48" r="3.45"/><circle cx="384.51" cy="697.26" r="3.45"/><circle cx="384.59" cy="697.05" r="3.45"/><circle cx="385.5" cy="696.83" r="3.45"/><circle cx="384.76" cy="696.61" r="3.45"/><circle cx="385.24" cy="696.39" r="3.45"/><circle cx="384.76" cy="696.17" r="3.45"/><circle cx="385.16" cy="695.94" r="3.45"/><circle cx="384.67" cy="695.71" r="3.45"/><circle cx="385.19" cy="695.48" r="3.45"/><circle cx="384.87" cy="695.25" r="3.45"/><circle cx="386.27" cy="695.02" r="3.45"/><circle cx="386.05" cy="694.78" r="3.45"/><circle cx="385.51" cy="694.54" r="3.45"/><circle cx="386.13" cy="694.3" r="3.45"/><circle cx="387.07" cy="694.05" r="3.45"/><circle cx="385.68" cy="693.81" r="3.45"/><circle cx="387.08" cy="693.56" r="3.45"/><circle cx="386.5" cy="693.3" r="3.45"/><circle cx="386.72" cy="693.05" r="3.45"/><circle cx="387.45" cy="692.69" r="3.45"/><circle cx="386.77" cy="692.17" r="3.45"/><circle cx="387.1" cy="691.63" r="3.45"/><circle cx="387.55" cy="691.09" r="3.45"/><circle cx="388.2" cy="690.53" r="3.45"/><circle cx="387.18" cy="689.96" r="3.45"/><circle cx="388.19" cy="689.38" r="3.45"/><circle cx="388.1" cy="688.78" r="3.45"/><circle cx="388.12" cy="688.16" r="3.45"/><circle cx="387.84" cy="687.53" r="3.45"/><circle cx="387.89" cy="686.88" r="3.45"/><circle cx="387.51" cy="686.22" r="3.45"/><circle cx="387.8" cy="685.53" r="3.45"/><circle cx="387.85" cy="684.82" r="3.45"/><circle cx="389.22" cy="684.09" r="3.45"/><circle cx="388.52" cy="683.34" r="3.45"/><circle cx="388.53" cy="682.56" r="3.45"/><circle cx="388.57" cy="681.76" r="3.45"/><circle cx="390.12" cy="680.93" r="3.45"/><circle cx="390.37" cy="680.06" r="3.45"/><circle cx="390.21" cy="679.17" r="3.45"/><circle cx="389.72" cy="678.24" r="3.45"/><circle cx="389.87" cy="677.27" r="3.45"/><circle cx="390.19" cy="676.26" r="3.45"/><circle cx="390.72" cy="675.21" r="3.45"/><circle cx="390.43" cy="674.1" r="3.45"/><circle cx="391.21" cy="672.95" r="3.45"/><circle cx="391.16" cy="671.77" r="3.45"/><circle cx="392.7" cy="670.61" r="3.45"/><circle cx="393.03" cy="669.39" r="3.45"/><circle cx="392.58" cy="668.11" r="3.45"/><circle cx="392.37" cy="666.75" r="3.45"/><circle cx="394.03" cy="665.31" r="3.45"/><circle cx="393.23" cy="663.78" r="3.45"/><circle cx="393.72" cy="662.15" r="3.45"/><circle cx="393.52" cy="660.39" r="3.45"/><circle cx="394.68" cy="658.5" r="3.45"/><circle cx="395.36" cy="656.45" r="3.45"/><circle cx="395.97" cy="654.21" r="3.45"/><circle cx="396.04" cy="651.75" r="3.45"/><circle cx="397.27" cy="649.71" r="3.45"/><circle cx="397.12" cy="647.66" r="3.45"/><circle cx="398.4" cy="645.42" r="3.45"/><circle cx="398.98" cy="642.96" r="3.45"/><circle cx="400.54" cy="640.21" r="3.45"/><circle cx="401.84" cy="637.13" r="3.45"/><circle cx="403.13" cy="634.16" r="3.45"/><circle cx="404.59" cy="631.28" r="3.45"/><circle cx="406.24" cy="628.02" r="3.45"/><circle cx="408.6" cy="621.5" r="3.45"/><circle cx="412.5" cy="613.5" r="3.45"/><circle cx="417.5" cy="604.5" r="3.45"/><circle cx="426.5" cy="591.5" r="3.45"/><circle cx="446.4" cy="573.5" r="3.45"/><circle cx="515.4" cy="545.5" r="3.45"/><circle cx="584.4" cy="544.6" r="3.45"/></g>
<g clip-path="url(#c4)" fill="#1f77b4"><circle cx="909.5" cy="683.4" r="3.45"/><circle cx="911.5" cy="690.4" r="3.45"/><circle cx="911.5" cy="708.3" r="3.45"/><circle cx="920.4" cy="664.4" r="3.45"/><circle cx="920.4" cy="678.4" r="3.45"/><circle cx="920.4" cy="692.5" r="3.45"/><circle cx="924.6" cy="657.5" r="3.45"/><circle cx="974.5" cy="594.4" r="3.45"/><circle cx="975.5" cy="579.5" r="3.45"/><circle cx="974.6" cy="570.4" r="3.45"/><circle cx="975.4" cy="570.4" r="3.45"/><circle cx="976.5" cy="561.5" r="3.45"/><circle cx="974.5" cy="554.75" r="3.45"/><circle cx="978.5" cy="551.5" r="3.45"/><circle cx="983.5" cy="540.5" r="3.45"/><circle cx="988.5" cy="528.5" r="3.45"/><circle cx="1077.5" cy="572.5" r="3.45"/><circle cx="1146.3" cy="612.5" r="3.45"/><circle cx="1215.3" cy="750.4" r="3.45"/><circle cx="1057.5" cy="554.5" r="3.45"/><circle cx="1048.5" cy="545.4" r="3.45"/><circle cx="991.25" cy="524.82" r="3.45"/><circle cx="993.4" cy="524.73" r="3.45"/><circle cx="995.3" cy="522.13" r="3.45"/><circle cx="996.4" cy="522.28" r="3.45"/><circle cx="998.4" cy="522.54" r="3.45"/><circle cx="994.25" cy="522.89" r="3.45"/><circle cx="997.2" cy="522.79" r="3.45"/><circle cx="997.5" cy="523.24" r="3.45"/><circle cx="1001.6" cy="523.04" r="3.45"/><circle cx="999.4" cy="523.56" r="3.45"/><circle cx="997.9" cy="523.81" r="3.45"/><circle cx="999.4" cy="524.35" r="3.45"/><circle cx="1000.3" cy="524.69" r="3.45"/><circle cx="1002.2" cy="524.82" r="3.45"/><circle cx="1003.75" cy="524.93" r="3.45"/><circle cx="1005.6" cy="525.03" r="3.45"/><circle cx="1008.1" cy="525.12" r="3.45"/><circle cx="1010.6" cy="525.17" r="3.45"/><circle cx="1006.25" cy="524.33" r="3.45"/><circle cx="1008.4" cy="524.42" r="3.45"/><circle cx="1010.6" cy="524.5" r="3.45"/><circle cx="1003" cy="524.01" r="3.45"/><circle cx="1005" cy="524.16" r="3.45"/><circle cx="1010.6" cy="523.47" r="3.45"/><circle cx="1010.6" cy="523.79" r="3.45"/><circle cx="1010.6" cy="524.12" r="3.45"/><circle cx="1010.5" cy="522.89" r="3.45"/><circle cx="1010.6" cy="523.16" r="3.45"/><circle cx="1004.7" cy="522.03" r="3.45"/><circle cx="1010" cy="522.03" r="3.45"/><circle cx="1007.3" cy="522.03" r="3.45"/><circle cx="1005.6" cy="522.03" r="3.45"/><circle cx="1008" cy="522.03" r="3.45"/><circle cx="1010.4" cy="522.03" r="3.45"/><circle cx="1005.6" cy="522.1" r="3.45"/><circle cx="1008" cy="522.1" r="3.45"/><circle cx="1010.4" cy="522.1" r="3.45"/><circle cx="1005.6" cy="522.17" r="3.45"/><circle cx="1008" cy="522.17" r="3.45"/><circle cx="1010.4" cy="522.17" r="3.45"/><circle cx="1003.2" cy="522.24" r="3.45"/><circle cx="1005.6" cy="522.24" r="3.45"/><circle cx="1008" cy="522.24" r="3.45"/><circle cx="1010.4" cy="522.24" r="3.45"/><circle cx="1003.2" cy="522.31" r="3.45"/><circle cx="1005.6" cy="522.31" r="3.45"/><circle cx="1008" cy="522.31" r="3.45"/><circle cx="1010.4" cy="522.31" r="3.45"/><circle cx="1003.2" cy="522.38" r="3.45"/><circle cx="1005.6" cy="522.38" r="3.45"/><circle cx="1008" cy="522.38" r="3.45"/><circle cx="1010.4" cy="522.38" r="3.45"/><circle cx="1003.2" cy="522.45" r="3.45"/><circle cx="1005.6" cy="522.45" r="3.45"/><circle cx="1008" cy="522.45" r="3.45"/><circle cx="1010.4" cy="522.45" r="3.45"/><circle cx="1000.8" cy="522.52" r="3.45"/><circle cx="1003.2" cy="522.52" r="3.45"/><circle cx="1005.6" cy="522.52" r="3.45"/><circle cx="1008" cy="522.52" r="3.45"/><circle cx="1010.4" cy="522.52" r="3.45"/><circle cx="1000.8" cy="522.59" r="3.45"/><circle cx="1003.2" cy="522.59" r="3.45"/><circle cx="1005.6" cy="522.59" r="3.45"/><circle cx="1008" cy="522.59" r="3.45"/><circle cx="1010.4" cy="522.59" r="3.45"/><circle cx="1012.8" cy="522.59" r="3.45"/><circle cx="1003.2" cy="522.66" r="3.45"/><circle cx="1005.6" cy="522.66" r="3.45"/><circle cx="1008" cy="522.66" r="3.45"/><circle cx="1010.4" cy="522.66" r="3.45"/><circle cx="1012.8" cy="522.66" r="3.45"/><circle cx="1003.2" cy="522.74" r="3.45"/><circle cx="1005.6" cy="522.74" r="3.45"/><circle cx="1008" cy="522.74" r="3.45"/><circle cx="1010.4" cy="522.74" r="3.45"/><circle cx="1003.2" cy="522.81" r="3.45"/><circle cx="1005.6" cy="522.81" r="3.45"/><circle cx="1008" cy="522.81" r="3.45"/><circle cx="1010.4" cy="522.81" r="3.45"/><circle cx="1003.2" cy="522.88" r="3.45"/><circle cx="1005.6" cy="522.88" r="3.45"/><circle cx="1008" cy="522.88" r="3.45"/><circle cx="1003.2" cy="522.96" r="3.45"/><circle cx="1005.6" cy="522.96" r="3.45"/><circle cx="1008" cy="522.96" r="3.45"/><circle cx="1003.2" cy="523.04" r="3.45"/><circle cx="1005.6" cy="523.04" r="3.45"/><circle cx="1008" cy="523.04" r="3.45"/><circle cx="1000.8" cy="523.11" r="3.45"/><circle cx="1003.2" cy="523.11" r="3.45"/><circle cx="1005.6" cy="523.11" r="3.45"/><circle cx="1008" cy="523.11" r="3.45"/><circle cx="1000.8" cy="523.19" r="3.45"/><circle cx="1003.2" cy="523.19" r="3.45"/><circle cx="1005.6" cy="523.19" r="3.45"/><circle cx="1008" cy="523.19" r="3.45"/><circle cx="998.4" cy="523.27" r="3.45"/><circle cx="1000.8" cy="523.27" r="3.45"/><circle cx="1003.2" cy="523.27" r="3.45"/><circle cx="1005.6" cy="523.27" r="3.45"/><circle cx="1008" cy="523.27" r="3.45"/><circle cx="998.4" cy="523.35" r="3.45"/><circle cx="1000.8" cy="523.35" r="3.45"/><circle cx="1003.2" cy="523.35" r="3.45"/><circle cx="1005.6" cy="523.35" r="3.45"/><circle cx="1008" cy="523.35" r="3.45"/><circle cx="1000.8" cy="523.43" r="3.45"/><circle cx="1003.2" cy="523.43" r="3.45"/><circle cx="1005.6" cy="523.43" r="3.45"/><circle cx="1008" cy="523.43" r="3.45"/><circle cx="1000.8" cy="523.51" r="3.45"/><circle cx="1003.2" cy="523.51" r="3.45"/><circle cx="1005.6" cy="523.51" r="3.45"/><circle cx="1008" cy="523.51" r="3.45"/><circle cx="1000.8" cy="523.59" r="3.45"/><circle cx="1003.2" cy="523.59" r="3.45"/><circle cx="1005.6" cy="523.59" r="3.45"/><circle cx="1008" cy="523.59" r="3.45"/><circle cx="1000.8" cy="523.67" r="3.45"/><circle cx="1003.2" cy="523.67" r="3.45"/><circle cx="1005.6" cy="523.67" r="3.45"/><circle cx="1008" cy="523.67" r="3.45"/><circle cx="1000.8" cy="523.75" r="3.45"/><circle cx="1003.2" cy="523.75" r="3.45"/><circle cx="1005.6" cy="523.75" r="3.45"/><circle cx="1008" cy="523.75" r="3.45"/><circle cx="1000.8" cy="523.84" r="3.45"/><circle cx="1003.2" cy="523.84" r="3.45"/><circle cx="1005.6" cy="523.84" r="3.45"/><circle cx="1008" cy="523.84" r="3.45"/><circle cx="1003.2" cy="523.92" r="3.45"/><circle cx="1005.6" cy="523.92" r="3.45"/><circle cx="1008" cy="523.92" r="3.45"/><circle cx="1003.2" cy="524.01" r="3.45"/><circle cx="1005.6" cy="524.01" r="3.45"/><circle cx="1008" cy="524.01" r="3.45"/><circle cx="1005.6" cy="524.09" r="3.45"/><circle cx="1008" cy="524.09" r="3.45"/><circle cx="1005.6" cy="524.18" r="3.45"/><circle cx="1008" cy="524.18" r="3.45"/><circle cx="1008" cy="524.27" r="3.45"/><circle cx="1008" cy="524.36" r="3.45"/><circle cx="1011.64" cy="522.03" r="3.45"/><circle cx="1012.01" cy="522.08" r="3.45"/><circle cx="1012.38" cy="522.12" r="3.45"/><circle cx="1012.75" cy="522.17" r="3.45"/><circle cx="1013.12" cy="522.21" r="3.45"/><circle cx="1013.48" cy="522.26" r="3.45"/><circle cx="1013.85" cy="522.31" r="3.45"/><circle cx="1014.22" cy="522.35" r="3.45"/><circle cx="1014.58" cy="522.4" r="3.45"/><circle cx="1014.88" cy="522.45" r="3.45"/><circle cx="1015.19" cy="522.49" r="3.45"/><circle cx="1015.5" cy="522.54" r="3.45"/><circle cx="1015.81" cy="522.59" r="3.45"/><circle cx="1016.11" cy="522.64" r="3.45"/><circle cx="1016.42" cy="522.69" r="3.45"/><circle cx="1016.73" cy="522.74" r="3.45"/><circle cx="1017.06" cy="522.78" r="3.45"/><circle cx="1017.42" cy="522.83" r="3.45"/><circle cx="1017.77" cy="522.88" r="3.45"/><circle cx="1018.13" cy="522.93" r="3.45"/><circle cx="1018.49" cy="522.98" r="3.45"/><circle cx="1018.85" cy="523.04" r="3.45"/><circle cx="1019.21" cy="523.09" r="3.45"/><circle cx="1019.57" cy="523.14" r="3.45"/><circle cx="1019.81" cy="523.19" r="3.45"/><circle cx="1019.99" cy="523.24" r="3.45"/><circle cx="1020.16" cy="523.29" r="3.45"/><circle cx="1020.34" cy="523.35" r="3.45"/><circle cx="1020.51" cy="523.4" r="3.45"/><circle cx="1020.69" cy="523.45" r="3.45"/><circle cx="1020.87" cy="523.51" r="3.45"/><circle cx="1021.05" cy="523.56" r="3.45"/><circle cx="1021.24" cy="523.62" r="3.45"/><circle cx="1021.42" cy="523.67" r="3.45"/><circle cx="1021.6" cy="523.73" r="3.45"/><circle cx="1021.79" cy="523.78" r="3.45"/><circle cx="1021.97" cy="523.84" r="3.45"/><circle cx="1022.16" cy="523.89" r="3.45"/><circle cx="1022.34" cy="523.95" r="3.45"/><circle cx="1022.52" cy="524.01" r="3.45"/><circle cx="1022.71" cy="524.06" r="3.45"/><circle cx="1022.89" cy="524.12" r="3.45"/><circle cx="1023.08" cy="524.18" r="3.45"/><circle cx="1023.19" cy="524.24" r="3.45"/><circle cx="1023.28" cy="524.3" r="3.45"/><circle cx="1023.38" cy="524.36" r="3.45"/><circle cx="1023.48" cy="524.42" r="3.45"/><circle cx="1023.58" cy="524.48" r="3.45"/><circle cx="1023.68" cy="524.54" r="3.45"/><circle cx="1023.77" cy="524.6" r="3.45"/><circle cx="1023.87" cy="524.66" r="3.45"/><circle cx="1023.97" cy="524.73" r="3.45"/><circle cx="1024.07" cy="524.79" r="3.45"/><circle cx="1024.16" cy="524.85" r="3.45"/><circle cx="1024.26" cy="524.91" r="3.45"/><circle cx="1024.4" cy="525.01" r="3.45"/><circle cx="1025.4" cy="525.21" r="3.45"/><circle cx="1025.4" cy="525.42" r="3.45"/><circle cx="1026.5" cy="525.64" r="3.45"/><circle cx="1026.5" cy="525.91" r="3.45"/><circle cx="1027.5" cy="526.23" r="3.45"/><circle cx="1027.5" cy="526.57" r="3.45"/><circle cx="1028.5" cy="526.97" r="3.45"/><circle cx="1029.5" cy="527.45" r="3.45"/><circle cx="1030.5" cy="528.01" r="3.45"/><circle cx="1031.5" cy="528.75" r="3.45"/><circle cx="1032.5" cy="529.55" r="3.45"/><circle cx="1033.5" cy="530.59" r="3.45"/><circle cx="1035.5" cy="531.9" r="3.45"/><circle cx="1037.5" cy="533.67" r="3.45"/><circle cx="1039.5" cy="536.09" r="3.45"/><circle cx="1043.5" cy="539.52" r="3.45"/></g>
<line x1="787.1" x2="1235.1" y1="181.5" y2="181.5" stroke="#ff0000" stroke-width="1.4"/>
<line x1="787.1" x2="1235.1" y1="522.3" y2="522.3" stroke="#ff0000" stroke-width="1.4"/>
<g stroke="#000" stroke-width="2.22" stroke-linecap="butt"><rect x="156.1" y="151.9" width="447.9" height="322" fill="none"/><line x1="176.1" x2="176.1" y1="473.9" y2="483.85"/><line x1="278" x2="278" y1="473.9" y2="483.85"/><line x1="380" x2="380" y1="473.9" y2="483.85"/><line x1="481.9" x2="481.9" y1="473.9" y2="483.85"/><line x1="583.9" x2="583.9" y1="473.9" y2="483.85"/><rect x="787.1" y="151.9" width="448" height="322" fill="none"/><line x1="807.1" x2="807.1" y1="473.9" y2="483.85"/><line x1="909" x2="909" y1="473.9" y2="483.85"/><line x1="1011" x2="1011" y1="473.9" y2="483.85"/><line x1="1112.9" x2="1112.9" y1="473.9" y2="483.85"/><line x1="1214.9" x2="1214.9" y1="473.9" y2="483.85"/><rect x="156.1" y="521" width="447.9" height="321.9" fill="none"/><line x1="176.1" x2="176.1" y1="842.9" y2="852.85"/><line x1="278" x2="278" y1="842.9" y2="852.85"/><line x1="380" x2="380" y1="842.9" y2="852.85"/><line x1="481.9" x2="481.9" y1="842.9" y2="852.85"/><line x1="583.9" x2="583.9" y1="842.9" y2="852.85"/><rect x="787.1" y="521" width="448" height="321.9" fill="none"/><line x1="807.1" x2="807.1" y1="842.9" y2="852.85"/><line x1="909" x2="909" y1="842.9" y2="852.85"/><line x1="1011" x2="1011" y1="842.9" y2="852.85"/><line x1="1112.9" x2="1112.9" y1="842.9" y2="852.85"/><line x1="1214.9" x2="1214.9" y1="842.9" y2="852.85"/><line x1="146.15" x2="156.1" y1="167" y2="167"/><line x1="146.15" x2="156.1" y1="240.25" y2="240.25"/><line x1="146.15" x2="156.1" y1="313.5" y2="313.5"/><line x1="146.15" x2="156.1" y1="386.75" y2="386.75"/><line x1="146.15" x2="156.1" y1="460" y2="460"/><line x1="777.15" x2="787.1" y1="181.5" y2="181.5"/><line x1="777.15" x2="787.1" y1="254.6" y2="254.6"/><line x1="777.15" x2="787.1" y1="327.7" y2="327.7"/><line x1="777.15" x2="787.1" y1="400.8" y2="400.8"/><line x1="777.15" x2="787.1" y1="473.9" y2="473.9"/><line x1="146.15" x2="156.1" y1="556.8" y2="556.8"/><line x1="146.15" x2="156.1" y1="663.8" y2="663.8"/><line x1="146.15" x2="156.1" y1="770.8" y2="770.8"/><line x1="777.15" x2="787.1" y1="540.9" y2="540.9"/><line x1="777.15" x2="787.1" y1="616.4" y2="616.4"/><line x1="777.15" x2="787.1" y1="691.9" y2="691.9"/><line x1="777.15" x2="787.1" y1="767.4" y2="767.4"/><line x1="777.15" x2="787.1" y1="842.9" y2="842.9"/></g>
<g fill="#000" style="filter:grayscale(1)"><text transform="translate(98.72,46.9) scale(1.1096,1)" style="font-family:'Liberation Sans';font-size:34.2px;">256</text><text transform="translate(173.68,46.9) scale(1.0725,1)" style="font-family:'Liberation Sans';font-size:34.2px;">successful</text><text transform="translate(356.89,46.9) scale(0.9766,1.07)" style="font-family:'Liberation Mono';font-size:34.2px;">PIDStepper</text><text transform="translate(568.93,46.9) scale(1.0731,1)" style="font-family:'Liberation Sans';font-size:34.2px;">steps</text><text transform="translate(669.37,46.9) scale(1.0541,1)" style="font-family:'Liberation Sans';font-size:34.2px;">and</text><text transform="translate(742,46.9) scale(1.1323,1)" style="font-family:'Liberation Sans';font-size:34.2px;">trajectory</text><text transform="translate(913.74,46.9) scale(1.1788,1)" style="font-family:'Liberation Sans';font-size:34.2px;">of</text><text transform="translate(957.74,46.9) scale(1.0988,1)" style="font-family:'Liberation Sans';font-size:34.2px;">274</text><text transform="translate(1031.77,46.9) scale(1.1491,1)" style="font-family:'Liberation Sans';font-size:34.2px;">attempts</text><text transform="translate(92.93,177.5) scale(1.0736,1)" style="font-family:'Liberation Sans';font-size:28.6px;">1.0</text><text transform="translate(93.36,250.75) scale(1.0503,1)" style="font-family:'Liberation Sans';font-size:28.6px;">0.5</text><text transform="translate(93.35,324) scale(1.0629,1)" style="font-family:'Liberation Sans';font-size:28.6px;">0.0</text><text transform="translate(70.34,397.25) scale(1.1601,1)" style="font-family:'Liberation Sans';font-size:28.6px;">−0.5</text><text transform="translate(70.35,470.5) scale(1.1570,1)" style="font-family:'Liberation Sans';font-size:28.6px;">−1.0</text><text transform="translate(705.47,192.1) scale(1.0806,1)" style="font-family:'Liberation Sans';font-size:28.6px;">1.00</text><text transform="translate(706.45,265.2) scale(1.0651,1)" style="font-family:'Liberation Sans';font-size:28.6px;">0.75</text><text transform="translate(706.45,338.3) scale(1.0627,1)" style="font-family:'Liberation Sans';font-size:28.6px;">0.50</text><text transform="translate(706.45,411.4) scale(1.0651,1)" style="font-family:'Liberation Sans';font-size:28.6px;">0.25</text><text transform="translate(706.45,484.5) scale(1.0627,1)" style="font-family:'Liberation Sans';font-size:28.6px;">0.00</text><text transform="translate(168.5,884.9) scale(1.0035,1)" style="font-family:'Liberation Sans';font-size:28.6px;">0</text><text transform="translate(251.93,884.9) scale(1.0993,1)" style="font-family:'Liberation Sans';font-size:28.6px;">250</text><text transform="translate(354.75,884.9) scale(1.0605,1)" style="font-family:'Liberation Sans';font-size:28.6px;">500</text><text transform="translate(456.06,884.9) scale(1.0730,1)" style="font-family:'Liberation Sans';font-size:28.6px;">750</text><text transform="translate(548.85,884.9) scale(1.0929,1)" style="font-family:'Liberation Sans';font-size:28.6px;">1000</text><text transform="translate(374.2,923.8) scale(1.2308,1)" style="font-family:'Liberation Sans';font-size:28.6px;font-style:italic;">t</text><text transform="translate(799.5,884.9) scale(1.0035,1)" style="font-family:'Liberation Sans';font-size:28.6px;">0</text><text transform="translate(882.93,884.9) scale(1.0993,1)" style="font-family:'Liberation Sans';font-size:28.6px;">250</text><text transform="translate(985.75,884.9) scale(1.0605,1)" style="font-family:'Liberation Sans';font-size:28.6px;">500</text><text transform="translate(1087.06,884.9) scale(1.0730,1)" style="font-family:'Liberation Sans';font-size:28.6px;">750</text><text transform="translate(1179.85,884.9) scale(1.0929,1)" style="font-family:'Liberation Sans';font-size:28.6px;">1000</text><text transform="translate(1005.2,923.8) scale(1.2308,1)" style="font-family:'Liberation Sans';font-size:28.6px;font-style:italic;">t</text><text transform="translate(89.73,568) scale(1.1019,1)" style="font-family:'Liberation Sans';font-size:28.6px;">10</text><text transform="translate(125.01,558.1) scale(0.9547,1)" style="font-family:'Liberation Sans';font-size:20px;">2</text><text transform="translate(89.73,675) scale(1.1019,1)" style="font-family:'Liberation Sans';font-size:28.6px;">10</text><text transform="translate(125.34,665.1) scale(0.8950,1)" style="font-family:'Liberation Sans';font-size:20px;">0</text><text transform="translate(74.18,782) scale(1.0166,1)" style="font-family:'Liberation Sans';font-size:28.6px;">10</text><text transform="translate(108.91,772.1) scale(1.1636,1)" style="font-family:'Liberation Sans';font-size:20px;">−2</text><text transform="translate(705.19,552.1) scale(1.0132,1)" style="font-family:'Liberation Sans';font-size:28.6px;">10</text><text transform="translate(739.58,541.9) scale(1.1921,1)" style="font-family:'Liberation Sans';font-size:20px;">−1</text><text transform="translate(705.19,627.6) scale(1.0132,1)" style="font-family:'Liberation Sans';font-size:28.6px;">10</text><text transform="translate(739.6,617.4) scale(1.1731,1)" style="font-family:'Liberation Sans';font-size:20px;">−5</text><text transform="translate(705.19,703.1) scale(1.0132,1)" style="font-family:'Liberation Sans';font-size:28.6px;">10</text><text transform="translate(739.58,692.9) scale(1.1921,1)" style="font-family:'Liberation Sans';font-size:20px;">−9</text><text transform="translate(692.19,778.6) scale(1.0132,1)" style="font-family:'Liberation Sans';font-size:28.6px;">10</text><text transform="translate(726.49,768.4) scale(1.1872,1)" style="font-family:'Liberation Sans';font-size:20px;">−13</text><text transform="translate(692.19,854.1) scale(1.0132,1)" style="font-family:'Liberation Sans';font-size:28.6px;">10</text><text transform="translate(726.51,843.9) scale(1.1576,1)" style="font-family:'Liberation Sans';font-size:20px;">−17</text><text transform="translate(52.1,351.1) rotate(-90) scale(1.0831,1)" style="font-family:'Liberation Sans';font-size:28.6px;">value</text><text transform="translate(689.2,348.68) rotate(-90) scale(1.0918,1)" style="font-family:'Liberation Sans';font-size:28.6px;">error</text><text transform="translate(674.1,717.47) rotate(-90) scale(1.0901,1)" style="font-family:'Liberation Sans';font-size:28.6px;">error</text><text transform="translate(53.9,698.94) rotate(-90) scale(0.9790,1)" style="font-family:'Liberation Sans';font-size:28.6px;">Δ</text><text transform="translate(53.9,679.88) rotate(-90) scale(1.2059,1)" style="font-family:'Liberation Sans';font-size:28.6px;font-style:italic;">t</text></g></svg></body></html>
